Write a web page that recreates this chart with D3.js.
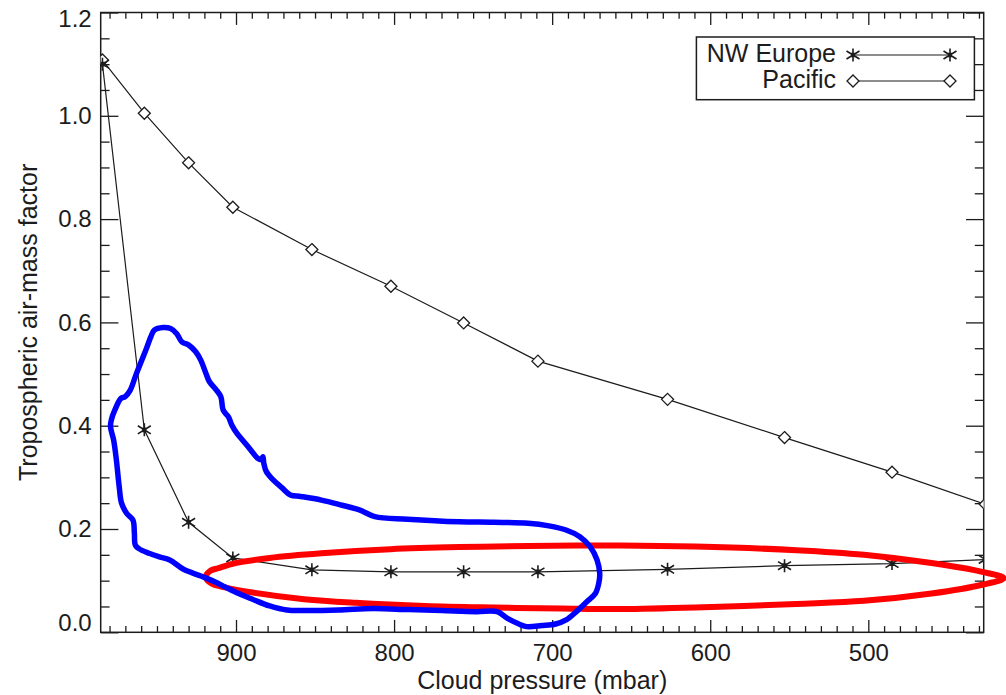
<!DOCTYPE html>
<html>
<head>
<meta charset="utf-8">
<script src="https://cdn.jsdelivr.net/npm/d3@7"></script>
<style>
  html, body { margin: 0; padding: 0; background: #fff; }
  svg { display: block; }
  text { font-family: "Liberation Sans", Arial, Helvetica, sans-serif; fill: #1c1c1c; }
</style>
</head>
<body>
<div id="chart"></div>
<script>
// ---------------- data ----------------
const pressure = [984.5, 958, 930, 902, 852, 802, 756, 709, 627, 553, 485, 426];
const nwEurope = [1.100, 0.392, 0.213, 0.144, 0.121, 0.117, 0.117, 0.117, 0.122, 0.129, 0.133, 0.141];
const pacific  = [1.108, 1.005, 0.909, 0.823, 0.741, 0.670, 0.599, 0.525, 0.451, 0.377, 0.310, 0.248];
const seriesNames = ["NW Europe", "Pacific"];

const xMajorTicks = [900, 800, 700, 600, 500];
const yMajorTicks = [0.0, 0.2, 0.4, 0.6, 0.8, 1.0, 1.2];
const yTickLabels = ["0.0", "0.2", "0.4", "0.6", "0.8", "1.0", "1.2"];
const xTitle = "Cloud pressure (mbar)";
const yTitle = "Tropospheric air-mass factor";

// hand-drawn annotation outlines (pressure, AMF)
const bluePressure = [951.7, 946.2, 941.4, 937.5, 934.2, 929.9, 925.5, 922.3, 919.0, 916.8, 912.4, 909.6, 908.1, 904.8, 902.6, 899.4, 895.0, 890.7, 886.3, 884.1, 883.0, 882.4, 880.8, 876.5, 871.0, 865.6, 859.0, 846.0, 832.9, 822.0, 812.2, 791.5, 758.8, 737.0, 715.2, 702.1, 691.2, 682.5, 676.0, 671.6, 669.9, 670.5, 672.7, 678.1, 684.7, 691.2, 697.8, 706.5, 716.3, 721.7, 728.3, 734.8, 747.9, 769.7, 791.5, 813.3, 835.1, 856.9, 867.8, 878.7, 889.6, 898.3, 907.0, 913.5, 922.3, 933.2, 941.9, 948.4, 955.0, 961.5, 963.7, 964.3, 965.2, 969.1, 972.4, 973.9, 975.7, 977.4, 979.4, 978.9, 976.7, 972.8, 970.2, 966.9, 963.7, 960.4, 957.1, 953.9];
const blueAmf = [0.585, 0.590, 0.588, 0.578, 0.562, 0.556, 0.543, 0.527, 0.501, 0.485, 0.469, 0.456, 0.430, 0.417, 0.401, 0.385, 0.369, 0.353, 0.337, 0.334, 0.340, 0.327, 0.311, 0.295, 0.280, 0.266, 0.263, 0.256, 0.246, 0.237, 0.224, 0.219, 0.214, 0.213, 0.211, 0.206, 0.198, 0.185, 0.166, 0.140, 0.114, 0.095, 0.075, 0.059, 0.040, 0.024, 0.016, 0.013, 0.011, 0.017, 0.027, 0.040, 0.040, 0.042, 0.044, 0.046, 0.043, 0.042, 0.043, 0.051, 0.064, 0.075, 0.088, 0.098, 0.109, 0.122, 0.140, 0.146, 0.153, 0.162, 0.169, 0.192, 0.217, 0.230, 0.250, 0.282, 0.334, 0.372, 0.398, 0.411, 0.430, 0.453, 0.456, 0.469, 0.495, 0.521, 0.546, 0.572];

const redPressure = [919.1, 916.3, 911.4, 900.4, 878.7, 846.0, 802.3, 758.8, 715.2, 656.8, 609.4, 545.4, 502.7, 460.0, 428.0, 414.4, 428.0, 460.0, 502.7, 545.4, 609.4, 656.8, 693.5, 737.0, 780.6, 824.2, 856.9, 889.6, 907.0, 915.7];
const redAmf = [0.107, 0.119, 0.124, 0.134, 0.144, 0.153, 0.161, 0.165, 0.167, 0.168, 0.166, 0.159, 0.150, 0.134, 0.117, 0.105, 0.092, 0.075, 0.061, 0.055, 0.048, 0.045, 0.046, 0.048, 0.051, 0.057, 0.064, 0.077, 0.087, 0.095];

// ---------------- layout ----------------
const W = 1006, H = 695;
const L = 100.7, R = 983.7, T = 12.5, B = 632.3;
const ink = "#1c1c1c";

const x = d3.scaleLinear().domain([985.6, 427]).range([L, R]);
const y = d3.scaleLinear().domain([0, 1.2]).range([B, T]);

const svg = d3.select("#chart").append("svg").attr("width", W).attr("height", H);

svg.append("defs").append("clipPath").attr("id", "plotclip")
  .append("rect").attr("x", L).attr("y", T).attr("width", R - L).attr("height", B - T);

const xMinor = d3.range(980, 427, -10).filter(v => !xMajorTicks.includes(v));
const yMinor = d3.range(0.05, 1.2, 0.05).map(v => +v.toFixed(2)).filter(v => !yMajorTicks.some(m => Math.abs(m - v) < 1e-6));

const xMaj = 12.4, xMin = 6.2, yMaj = 17.7, yMin = 8.9;

function styleAxis(g) {
  g.select(".domain").remove();
  g.selectAll(".tick line").attr("stroke", ink).attr("stroke-width", 1.3);
}

// bottom
svg.append("g").attr("transform", `translate(0,${B})`)
  .call(d3.axisBottom(x).tickValues(xMajorTicks).tickSize(-xMaj).tickPadding(12).tickFormat(d3.format("d")))
  .call(styleAxis)
  .call(g => g.selectAll("text").attr("font-size", 24).attr("fill", ink));
svg.append("g").attr("transform", `translate(0,${B})`)
  .call(d3.axisBottom(x).tickValues(xMinor).tickSize(-xMin).tickFormat(""))
  .call(styleAxis);
// top
svg.append("g").attr("transform", `translate(0,${T})`)
  .call(d3.axisTop(x).tickValues(xMajorTicks).tickSize(-xMaj).tickFormat(""))
  .call(styleAxis);
svg.append("g").attr("transform", `translate(0,${T})`)
  .call(d3.axisTop(x).tickValues(xMinor).tickSize(-xMin).tickFormat(""))
  .call(styleAxis);
// left
svg.append("g").attr("transform", `translate(${L},0)`)
  .call(d3.axisLeft(y).tickValues(yMajorTicks).tickSize(-yMaj).tickPadding(9)
        .tickFormat((d, i) => yTickLabels[i]))
  .call(styleAxis)
  .call(g => g.selectAll("text").attr("font-size", 24).attr("fill", ink)
        .attr("transform", d => {
          const py = y(d);
          const cy = Math.max(T + 6.5, Math.min(B - 9, py));
          return `translate(0,${cy - py})`;
        }));
svg.append("g").attr("transform", `translate(${L},0)`)
  .call(d3.axisLeft(y).tickValues(yMinor).tickSize(-yMin).tickFormat(""))
  .call(styleAxis);
// right
svg.append("g").attr("transform", `translate(${R},0)`)
  .call(d3.axisRight(y).tickValues(yMajorTicks).tickSize(-yMaj).tickFormat(""))
  .call(styleAxis);
svg.append("g").attr("transform", `translate(${R},0)`)
  .call(d3.axisRight(y).tickValues(yMinor).tickSize(-yMin).tickFormat(""))
  .call(styleAxis);

// frame
svg.append("rect").attr("x", L).attr("y", T).attr("width", R - L).attr("height", B - T)
  .attr("fill", "none").attr("stroke", ink).attr("stroke-width", 1.5);

// titles
svg.append("text").attr("x", (L + R) / 2).attr("y", 689).attr("text-anchor", "middle")
  .attr("font-size", 25).text(xTitle);
svg.append("text").attr("transform", `translate(37,${(T + B) / 2}) rotate(-90)`)
  .attr("text-anchor", "middle").attr("font-size", 25).text(yTitle);

// symbols
const asterisk = {
  draw(ctx, size) {
    const r = Math.sqrt(size) / 2;
    ctx.moveTo(0, -r); ctx.lineTo(0, r);
    ctx.moveTo(-r, -r * 0.62); ctx.lineTo(r, r * 0.62);
    ctx.moveTo(-r, r * 0.62); ctx.lineTo(r, -r * 0.62);
    // small centre block
    ctx.moveTo(-1.5, -1.5); ctx.lineTo(1.5, -1.5); ctx.lineTo(1.5, 1.5); ctx.lineTo(-1.5, 1.5); ctx.closePath();
  }
};
const diamond = {
  draw(ctx, size) {
    const r = Math.sqrt(size) / 2;
    ctx.moveTo(0, -r); ctx.lineTo(r, 0); ctx.lineTo(0, r); ctx.lineTo(-r, 0); ctx.closePath();
  }
};
const starSize = 13 * 13;
const diamondSize = 12 * 12;

const plot = svg.append("g").attr("clip-path", "url(#plotclip)");
const line = d3.line().x(d => x(d[0])).y(d => y(d[1]));

function drawSeries(vals, type, size, fill, sw) {
  const pts = pressure.map((p, i) => [p, vals[i]]);
  plot.append("path").datum(pts).attr("d", line)
    .attr("fill", "none").attr("stroke", ink).attr("stroke-width", 1.2);
  plot.selectAll(null).data(pts).enter().append("path")
    .attr("transform", d => `translate(${x(d[0])},${y(d[1])})`)
    .attr("d", d3.symbol().type(type).size(size))
    .attr("fill", fill).attr("stroke", ink).attr("stroke-width", sw);
}
drawSeries(pacific, diamond, diamondSize, "#fff", 1.3);
drawSeries(nwEurope, asterisk, starSize, ink, 1.6);

// legend
const lg = svg.append("g");
lg.append("rect").attr("x", 696.4).attr("y", 37).attr("width", 974.4 - 696.4).attr("height", 99.7 - 37)
  .attr("fill", "#fff").attr("stroke", ink).attr("stroke-width", 1.5);
const legendRows = [
  { name: seriesNames[0], type: asterisk, size: starSize, fill: ink, sw: 1.6, ly: 55 },
  { name: seriesNames[1], type: diamond, size: diamondSize, fill: "#fff", sw: 1.3, ly: 81 }
];
legendRows.forEach(r => {
  lg.append("line").attr("x1", 853).attr("x2", 950).attr("y1", r.ly).attr("y2", r.ly)
    .attr("stroke", ink).attr("stroke-width", 1.2);
  [853, 950].forEach(sx => {
    lg.append("path").attr("transform", `translate(${sx},${r.ly})`)
      .attr("d", d3.symbol().type(r.type).size(r.size))
      .attr("fill", r.fill).attr("stroke", ink).attr("stroke-width", r.sw);
  });
  lg.append("text").attr("x", 836).attr("y", r.ly + 6.5).attr("text-anchor", "end")
    .attr("font-size", 25).text(r.name);
});

// annotations
const outline = d3.line().x(d => x(d[0])).y(d => y(d[1])).curve(d3.curveCatmullRomClosed.alpha(0.5));
svg.append("path").datum(redPressure.map((p, i) => [p, redAmf[i]])).attr("d", outline)
  .attr("fill", "none").attr("stroke", "#ff0000").attr("stroke-width", 6).attr("stroke-linejoin", "round");
svg.append("path").datum(bluePressure.map((p, i) => [p, blueAmf[i]])).attr("d", outline)
  .attr("fill", "none").attr("stroke", "#0000ff").attr("stroke-width", 5.5).attr("stroke-linejoin", "round");
</script>
</body>
</html>
